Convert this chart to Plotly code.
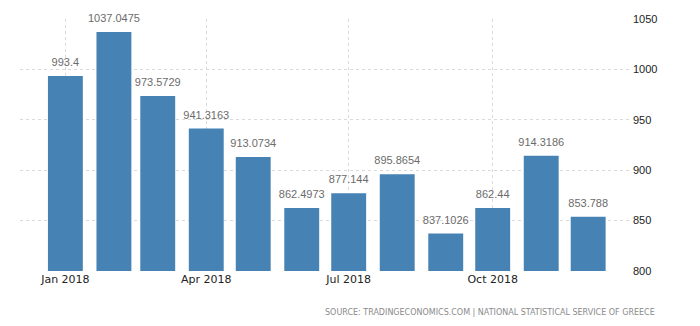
import plotly.graph_objects as go

months = ["2018-01-01", "2018-02-01", "2018-03-01", "2018-04-01", "2018-05-01", "2018-06-01",
          "2018-07-01", "2018-08-01", "2018-09-01", "2018-10-01", "2018-11-01", "2018-12-01"]
values = [993.4, 1037.0475, 973.5729, 941.3163, 913.0734, 862.4973,
          877.144, 895.8654, 837.1026, 862.44, 914.3186, 853.788]
labels = ["993.4", "1037.0475", "973.5729", "941.3163", "913.0734", "862.4973",
          "877.144", "895.8654", "837.1026", "862.44", "914.3186", "853.788"]
tick_vals = ["2018-01-01", "2018-04-01", "2018-07-01", "2018-10-01"]
tick_text = ["Jan 2018", "Apr 2018", "Jul 2018", "Oct 2018"]
y_ticks = [800, 850, 900, 950, 1000, 1050]

fig = go.Figure()
fig.add_trace(go.Bar(
    x=months, y=values,
    marker=dict(color="#4682b4", line=dict(width=0)),
    width=22.3 * 86400000, hoverinfo="skip",
))
fig.add_trace(go.Scatter(
    x=months, y=values, text=labels, mode="markers+text", textposition="top center",
    marker=dict(size=10, color="rgba(0,0,0,0)"),
    textfont=dict(family="Liberation Sans, Arial", size=11, color="#6b6b6b"),
    cliponaxis=False,
))

fig.update_layout(
    width=700, height=326,
    margin=dict(l=20, r=68, t=19, b=55),
    plot_bgcolor="white", paper_bgcolor="white",
    showlegend=False,
    xaxis=dict(
        type="date", range=["2017-12-03", "2018-12-29"],
        tickvals=tick_vals, ticktext=tick_text,
        showgrid=True, gridcolor="#dadada", griddash="dot", gridwidth=1,
        showline=False, zeroline=False, ticks="",
        tickfont=dict(family="DejaVu Sans", size=11, color="#222"),
    ),
    yaxis=dict(
        range=[800, 1050], side="right", tickvals=y_ticks,
        showgrid=True, gridcolor="#dadada", griddash="dot", gridwidth=1,
        showline=False, zeroline=False, ticks="",
        tickfont=dict(family="Liberation Sans, Arial", size=11, color="#222"),
    ),
    annotations=[dict(
        text="SOURCE: TRADINGECONOMICS.COM | NATIONAL STATISTICAL SERVICE OF GREECE",
        xref="paper", yref="paper", x=(657 - 20) / 612, y=-(312 - 271) / 252,
        xanchor="right", yanchor="middle", showarrow=False,
        font=dict(family="DejaVu Sans", size=8, color="#8a8a8a"),
    )],
)

fig.write_html("out.html")
